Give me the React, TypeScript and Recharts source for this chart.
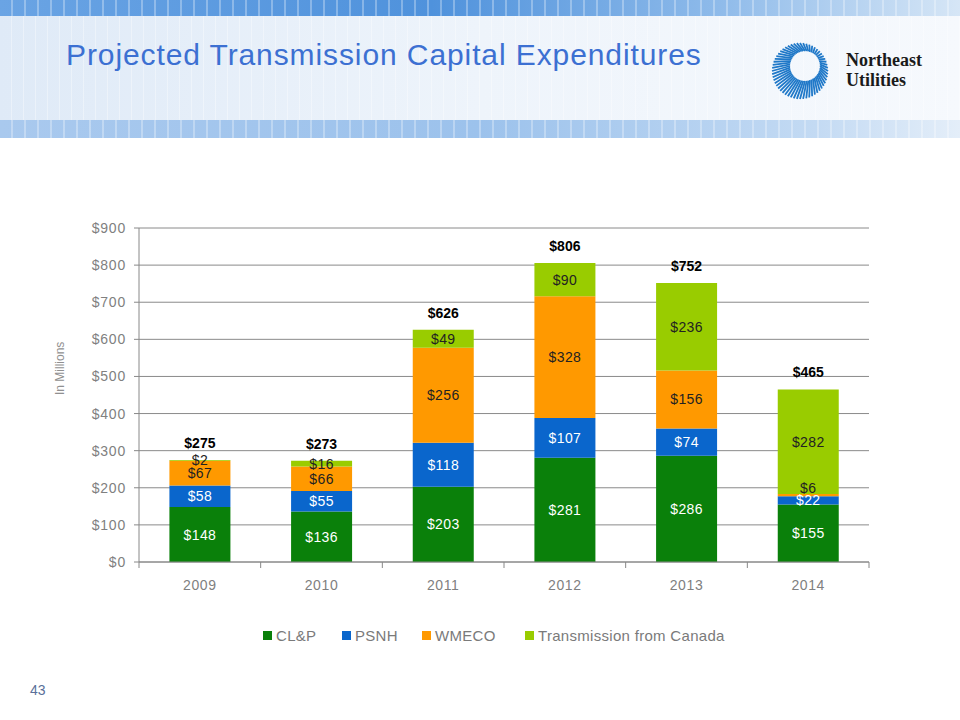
import React from 'react';
import { BarChart, Bar, XAxis, YAxis, CartesianGrid, LabelList } from 'recharts';

const years = ['2009', '2010', '2011', '2012', '2013', '2014'];
const clp = [148, 136, 203, 281, 286, 155];
const psnh = [58, 55, 118, 107, 74, 22];
const wmeco = [67, 66, 256, 328, 156, 6];
const canada = [2, 16, 49, 90, 236, 282];
const totals = [275, 273, 626, 806, 752, 465];
const yTicks = [0, 100, 200, 300, 400, 500, 600, 700, 800, 900];

const series = [
  { key: 'clp', name: 'CL&P', color: '#0a800a', text: '#ffffff', legendX: 263 },
  { key: 'psnh', name: 'PSNH', color: '#0a66cc', text: '#ffffff', legendX: 342 },
  { key: 'wmeco', name: 'WMECO', color: '#ff9900', text: '#222222', legendX: 422 },
  { key: 'canada', name: 'Transmission from Canada', color: '#99cc00', text: '#222222', legendX: 525 },
];

const data = years.map((year, i) => ({
  year,
  clp: clp[i],
  psnh: psnh[i],
  wmeco: wmeco[i],
  canada: canada[i],
  total: totals[i],
}));

const font = 'Arial, "Liberation Sans", sans-serif';
const money = (v: any) => `$${v}`;

const XTick = (props: any) => {
  const { x, y, payload, index } = props;
  const half = payload?.offset ?? 0;
  return (
    <g>
      <line x1={x - half} y1={y - 8} x2={x - half} y2={y - 2} stroke="#888" />
      {index === years.length - 1 && (
        <line x1={x + half} y1={y - 8} x2={x + half} y2={y - 2} stroke="#888" />
      )}
      <text x={x} y={y + 20} textAnchor="middle" fill="#808080" fontSize={14} letterSpacing={0.6} fontFamily={font}>
        {payload.value}
      </text>
    </g>
  );
};

// segment labels; very thin segments get their label nudged up like the original slide
const SegLabel = (color: string) => (props: any) => {
  const { x, y, width, height, value } = props;
  const thin = Math.abs(height) < 10;
  const cy = y + height / 2 - (thin && value < 10 && value > 4 ? 7 : 0);
  return (
    <text x={x + width / 2} y={cy} dy={5} textAnchor="middle" fill={color} fontSize={14} letterSpacing={0.4} fontFamily={font}>
      {money(value)}
    </text>
  );
};

const Logo = () => {
  const rays = [];
  for (let i = 0; i < 56; i++) {
    const a = (i / 56) * Math.PI * 2;
    const x1 = 35 + 15 * Math.cos(a);
    const y1 = 27 + 15 * Math.sin(a);
    const x2 = 30 + 28 * Math.cos(a);
    const y2 = 32 + 28 * Math.sin(a);
    rays.push(<line key={i} x1={x1} y1={y1} x2={x2} y2={y2} stroke="#1f78c8" strokeWidth={1.8} />);
  }
  return (
    <svg width={64} height={66} style={{ position: 'absolute', left: 770, top: 39 }}>
      {rays}
    </svg>
  );
};

export default function App() {
  return (
    <div style={{ position: 'absolute', left: 0, top: 0, width: 960, height: 720, background: '#fff', overflow: 'hidden', fontFamily: font }}>
      {/* header band */}
      <div style={{ position: 'absolute', left: 0, top: 0, width: 960, height: 138, background: 'linear-gradient(90deg, #dfeaf7 0%, #eef4fb 50%, #f6f9fd 100%)' }} />
      <div style={{ position: 'absolute', left: 0, top: 0, width: 960, height: 138, background: 'repeating-linear-gradient(90deg, rgba(255,255,255,0) 0px, rgba(255,255,255,0) 11px, rgba(255,255,255,0.35) 11px, rgba(255,255,255,0.35) 12px)' }} />
      <div style={{ position: 'absolute', left: 0, top: 0, width: 960, height: 16, background: 'linear-gradient(90deg, #6aa4e4 0%, #4f92dc 45%, #8fbbea 75%, #d6e6f6 100%)' }} />
      <div style={{ position: 'absolute', left: 0, top: 0, width: 960, height: 16, background: 'repeating-linear-gradient(90deg, rgba(255,255,255,0) 0px, rgba(255,255,255,0) 11px, rgba(255,255,255,0.3) 11px, rgba(255,255,255,0.3) 13px)' }} />
      <div style={{ position: 'absolute', left: 0, top: 120, width: 960, height: 18, background: 'linear-gradient(90deg, #a9c9ee 0%, #9cc2ec 50%, #c3daf3 85%, #e4eef9 100%)' }} />
      <div style={{ position: 'absolute', left: 0, top: 120, width: 960, height: 18, background: 'repeating-linear-gradient(90deg, rgba(255,255,255,0) 0px, rgba(255,255,255,0) 11px, rgba(255,255,255,0.3) 11px, rgba(255,255,255,0.3) 13px)' }} />

      <div style={{ position: 'absolute', left: 66, top: 38, fontSize: 30, letterSpacing: 0.9, color: '#3c70d2', whiteSpace: 'nowrap' }}>
        Projected Transmission Capital Expenditures
      </div>
      <Logo />
      <div style={{ position: 'absolute', left: 846, top: 50, fontFamily: '"Liberation Serif", "DejaVu Serif", serif', fontWeight: 'bold', fontSize: 18, lineHeight: '20px', color: '#1a1a1a' }}>
        Northeast<br />Utilities
      </div>

      <div style={{ position: 'absolute', left: 0, top: 0 }}>
        <BarChart
          width={960}
          height={720}
          data={data}
          margin={{ top: 228, right: 91, bottom: 128, left: 79 }}
          barCategoryGap="25%"
        >
          <CartesianGrid vertical={false} stroke="#8a8a8a" />
          <XAxis
            dataKey="year"
            height={30}
            stroke="#888"
            tickLine={false}
            tick={<XTick />}
          />
          <YAxis
            width={60}
            domain={[0, 900]}
            ticks={yTicks}
            stroke="#888"
            tickSize={5}
            tickMargin={8}
            tickFormatter={money}
            tick={{ fill: '#808080', fontSize: 14, letterSpacing: 0.8, fontFamily: font }}
            label={{ value: 'In Millions', angle: -90, position: 'insideLeft', offset: -19, fill: '#909090', fontSize: 12, fontFamily: font }}
          />
          {series.map((s) => (
            <Bar key={s.key} dataKey={s.key} name={s.name} stackId="a" fill={s.color} isAnimationActive={false}>
              <LabelList dataKey={s.key} content={SegLabel(s.text)} />
              {s.key === 'canada' && (
                <LabelList dataKey="total" position="top" offset={12} formatter={money} fill="#000" fontSize={14} fontWeight="bold" fontFamily={font} />
              )}
            </Bar>
          ))}
        </BarChart>
      </div>

      {series.map((s) => (
        <div key={s.key} style={{ position: 'absolute', left: s.legendX, top: 627, display: 'flex', alignItems: 'center', fontSize: 15, letterSpacing: 0.3, color: '#7a7a7a', whiteSpace: 'nowrap' }}>
          <span style={{ display: 'inline-block', width: 9, height: 9, background: s.color, marginRight: 4 }} />
          <span>{s.name}</span>
        </div>
      ))}

      <div style={{ position: 'absolute', left: 30, top: 682, fontSize: 14, color: '#5a6f99' }}>43</div>
    </div>
  );
}
